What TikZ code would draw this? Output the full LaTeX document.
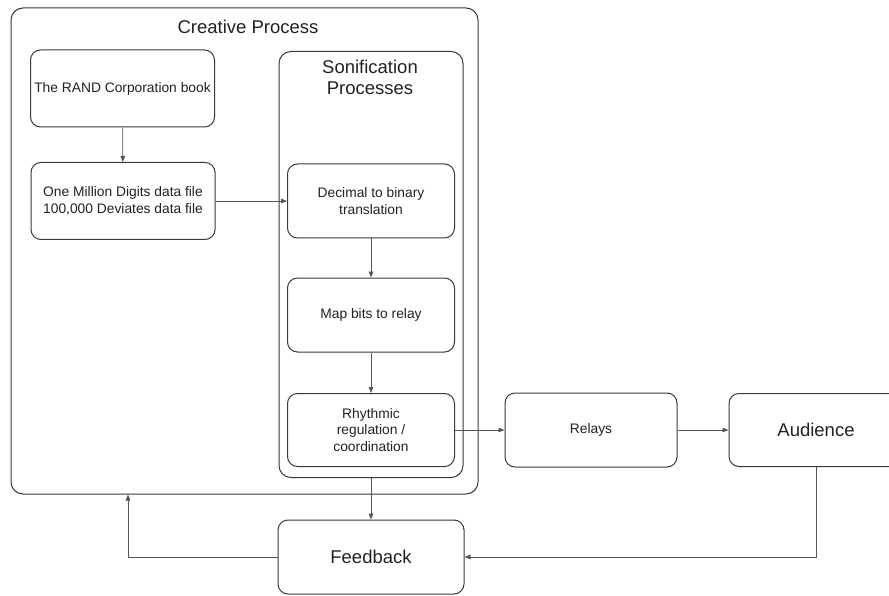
\documentclass[tikz,border=0pt]{standalone}
\usepackage{fontspec}
\setmainfont{Liberation Sans}
\usetikzlibrary{arrows.meta}
\definecolor{edge}{HTML}{3A3A3A}
\definecolor{conn}{HTML}{555555}
\definecolor{txt}{HTML}{222222}
\tikzset{
  box/.style={draw=edge, line width=1pt, rounded corners=10pt, align=center,
    inner sep=0pt, text=txt, font=\fontsize{13.8}{16.5}\selectfont},
  bigbox/.style={box, font=\fontsize{18.5}{21}\selectfont},
  frame/.style={draw=edge, line width=1pt, rounded corners=12pt, inner sep=0pt},
  ttl/.style={text=txt, align=center, inner sep=0pt, font=\fontsize{18.5}{21}\selectfont},
  conn/.style={draw=conn, line width=0.8pt, -{Triangle[length=6pt,width=4.5pt]}}
}
\begin{document}
\begin{tikzpicture}[x=1pt,y=-1pt]
\clip (0,0) rectangle (889,596);
\fill[white] (0,0) rectangle (889,596);
% frames
\node[frame, minimum width=467pt, minimum height=486pt] (outer) at (244.5,251) {};
\node[ttl] (ttlc) at (248,27) {Creative Process};
\node[frame, minimum width=184pt, minimum height=426pt] (son) at (371,264.5) {};
\node[ttl] (ttls) at (370,77.5) {Sonification\\Processes};
% boxes
\node[box, minimum width=184pt, minimum height=77pt] (rand) at (122.5,88.5) {The RAND Corporation book};
\node[box, minimum width=184pt, minimum height=77pt] (omd) at (123,201) {One Million Digits data file\\100,000 Deviates data file};
\node[box, minimum width=167pt, minimum height=74pt] (dec) at (371,201) {Decimal to binary\\translation};
\node[box, minimum width=167pt, minimum height=74pt] (map) at (371,315) {Map bits to relay};
\node[box, minimum width=167pt, minimum height=73pt] (rhy) at (371,430) {Rhythmic\\regulation /\\coordination};
\node[box, minimum width=172pt, minimum height=74pt] (relays) at (591,430) {Relays};
\node[bigbox, minimum width=174pt, minimum height=73pt] (aud) at (816,430) {Audience};
\node[bigbox, minimum width=186pt, minimum height=74pt] (fb) at (371,557) {Feedback};
% connectors
\draw[conn] (rand) -- (omd);
\draw[conn] (omd.east) -- (dec.west);
\draw[conn] (dec) -- (map);
\draw[conn] (map) -- (rhy);
\draw[conn] (rhy.east) -- (relays.west);
\draw[conn] (relays.east) -- (aud.west);
\draw[conn] (son.south) -- (fb.north);
\draw[conn] (fb.west) -| ([xshift=-116.5pt]outer.south);
\draw[conn] (aud.south) |- (fb.east);
\end{tikzpicture}
\end{document}
